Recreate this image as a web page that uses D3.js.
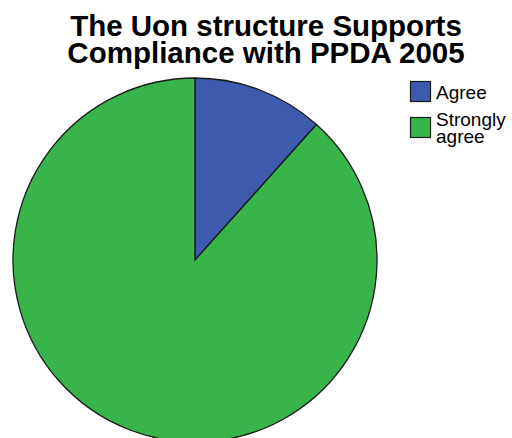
<!DOCTYPE html>
<html><head><meta charset="utf-8">
<script src="https://cdn.jsdelivr.net/npm/d3@7"></script>
<style>body{margin:0;background:#fff}</style>
</head><body>
<svg id="c" width="512" height="438"></svg>
<script>
const categories = ["Agree", "Strongly agree"];
const values = [5, 38];
const colors = ["#3d5aad", "#38b44a"];
const titleLines = ["The Uon structure Supports", "Compliance with PPDA 2005"];
const legendLines = [["Agree"], ["Strongly", "agree"]];

const svg = d3.select("#c");
const cx = 195, cy = 260, r = 182;
const pie = d3.pie().sort(null).value(d => d)(values);
const arc = d3.arc().innerRadius(0).outerRadius(r);
svg.append("g").attr("transform", `translate(${cx},${cy})`)
  .selectAll("path").data(pie).join("path")
  .attr("d", arc).attr("fill", (d, i) => colors[i])
  .attr("stroke", "#1a1a1a").attr("stroke-width", 1.3);

svg.append("g").selectAll("text").data(titleLines).join("text")
  .attr("x", 266).attr("y", (d, i) => 36 + i * 27)
  .attr("text-anchor", "middle")
  .attr("font-family", "Liberation Sans, Arial, sans-serif")
  .attr("font-weight", "bold").attr("font-size", 29.5)
  .attr("fill", "#000").text(d => d);

const lg = svg.append("g");
categories.forEach((c, i) => {
  const y0 = 81 + i * 36;
  lg.append("rect").attr("x", 410.5).attr("y", y0 + 0.5).attr("width", 20).attr("height", 20)
    .attr("fill", colors[i]).attr("stroke", "#1a1a1a").attr("stroke-width", 1.2);
  legendLines[i].forEach((t, j) => {
    lg.append("text").attr("x", 436)
      .attr("y", legendLines[i].length > 1 ? 126 + j * 17 : 99)
      .attr("font-family", "Liberation Sans, Arial, sans-serif").attr("font-size", 19)
      .attr("fill", "#000").text(t);
  });
});
</script>
</body></html>
